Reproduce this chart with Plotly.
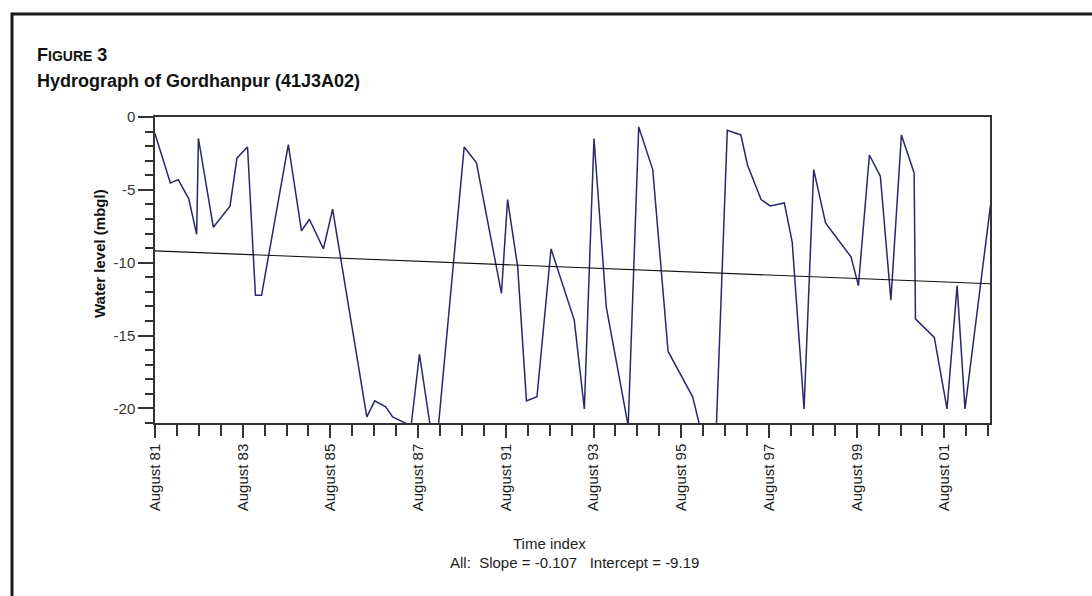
import plotly.graph_objects as go

# ---- data (time index in years since August 1981, water level in mbgl) ----
time_index = [0.00, 0.35, 0.53, 0.77, 0.95, 0.99, 1.33, 1.71, 1.87, 2.11,
              2.29, 2.43, 3.04, 3.34, 3.52, 3.84, 4.05, 4.83, 5.01, 5.26,
              5.42, 5.84, 6.03, 6.28, 6.46, 7.05, 7.33, 7.90, 8.04, 8.27,
              8.47, 8.71, 9.03, 9.56, 9.79, 10.01, 10.29, 10.79, 11.03, 11.35,
              11.70, 12.26, 12.43, 12.80, 13.05, 13.36, 13.51, 13.82, 14.03, 14.35,
              14.53, 14.80, 15.02, 15.29, 15.87, 16.04, 16.29, 16.54, 16.78, 17.02,
              17.31, 17.34, 17.77, 18.06, 18.29, 18.47, 19.05]
water_level = [-1.14, -4.53, -4.30, -5.62, -8.05, -1.46, -7.57, -6.12, -2.81, -2.06,
               -12.23, -12.23, -1.89, -7.82, -7.02, -9.05, -6.33, -20.58, -19.48, -19.89,
               -20.58, -21.2, -16.28, -21.3, -21.3, -2.06, -3.15, -12.11, -5.67, -10.29,
               -19.48, -19.20, -9.05, -13.94, -20.03, -1.48, -13.03, -21.2, -0.69, -3.61,
               -16.09, -19.20, -21.3, -21.3, -0.91, -1.23, -3.29, -5.67, -6.10, -5.90,
               -8.59, -20.03, -3.61, -7.27, -9.60, -11.57, -2.61, -4.07, -12.57, -1.23,
               -3.84, -13.85, -15.13, -20.03, -11.57, -20.03, -6.08]

tick_positions = [0, 2, 4, 6, 8, 10, 12, 14, 16, 18]
tick_labels = ["August 81", "August 83", "August 85", "August 87", "August 91",
               "August 93", "August 95", "August 97", "August 99", "August 01"]
y_tick_values = [0, -5, -10, -15, -20]

slope = -0.107
intercept = -9.19
skipped_years = 2          # Aug 87 -> Aug 91 shares one 2-year step on the axis

# ---- layout geometry (pixels) ----
W, H = 1092, 596
L, R, T, B = 155, 102, 117, 173
PW, PH = W - L - R, H - T - B


def px(x):
    return (x - L) / PW


def py(y):
    return (H - B - y) / PH


FONT = "Liberation Sans, Arial, sans-serif"
AX = "#333333"

trend_x = [time_index[0], time_index[-1]]
elapsed = [trend_x[0], trend_x[1] + skipped_years]
trend_y = [intercept + slope * e for e in elapsed]

fig = go.Figure()
fig.add_trace(go.Scatter(x=time_index, y=water_level, mode="lines",
                         line=dict(color="#28286a", width=1.5), showlegend=False,
                         hoverinfo="skip"))
fig.add_trace(go.Scatter(x=trend_x, y=trend_y, mode="lines",
                         line=dict(color="#111111", width=1.1), showlegend=False,
                         hoverinfo="skip"))

fig.update_layout(
    width=W, height=H,
    margin=dict(l=L, r=R, t=T, b=B),
    paper_bgcolor="white", plot_bgcolor="white",
    font=dict(family=FONT, color="#222222"),
    xaxis=dict(range=[0, 19.04], showgrid=False, zeroline=False,
               showline=True, linecolor=AX, linewidth=1.5, mirror=True,
               tickmode="array", tickvals=tick_positions, ticktext=tick_labels,
               tickangle=-90, ticks="outside", ticklen=13, tickcolor=AX, tickwidth=1.5,
               tickfont=dict(size=15, color="#222222", family=FONT),
               minor=dict(dtick=0.5, tick0=0, ticks="outside", ticklen=11,
                          tickcolor=AX, tickwidth=1.5, showgrid=False)),
    yaxis=dict(range=[-21, 0], showgrid=False, zeroline=False,
               showline=True, linecolor=AX, linewidth=1.5, mirror=True,
               tickmode="array", tickvals=y_tick_values,
               ticktext=[f"{v:g}" for v in y_tick_values],
               ticks="outside", ticklen=15, tickcolor=AX, tickwidth=1.5,
               tickfont=dict(size=15, color="#333333", family=FONT),
               minor=dict(dtick=1, tick0=0, ticks="outside", ticklen=8,
                          tickcolor=AX, tickwidth=1.5, showgrid=False)),
)

# outer frame (left and top edges visible)
fig.add_shape(type="rect", xref="paper", yref="paper",
              x0=px(12), x1=px(1110), y0=py(620), y1=py(14),
              line=dict(color="#1a1a1a", width=3), layer="above")

annos = [
    dict(x=px(35), y=py(55), xanchor="left", yanchor="middle",
         text="<b>F<span style='font-size:14px'>IGURE</span> 3</b>",
         font=dict(size=18, color="#111111", family=FONT)),
    dict(x=px(35), y=py(81), xanchor="left", yanchor="middle",
         text="<b>Hydrograph of Gordhanpur (41J3A02)</b>",
         font=dict(size=18, color="#111111", family=FONT)),
    dict(x=px(99), y=py(254), xanchor="center", yanchor="middle", textangle=-90,
         text="<b>Water level (mbgl)</b>",
         font=dict(size=15, color="#111111", family=FONT)),
    dict(x=px(549), y=py(543), xanchor="center", yanchor="middle",
         text="Time index", font=dict(size=15, color="#222222", family=FONT)),
    dict(x=px(574), y=py(562), xanchor="center", yanchor="middle",
         text="All:&nbsp; Slope = -0.107 &nbsp;&nbsp;Intercept = -9.19",
         font=dict(size=15, color="#222222", family=FONT)),
]
for a in annos:
    fig.add_annotation(xref="paper", yref="paper", showarrow=False, **a)

fig.write_html("out.html")
